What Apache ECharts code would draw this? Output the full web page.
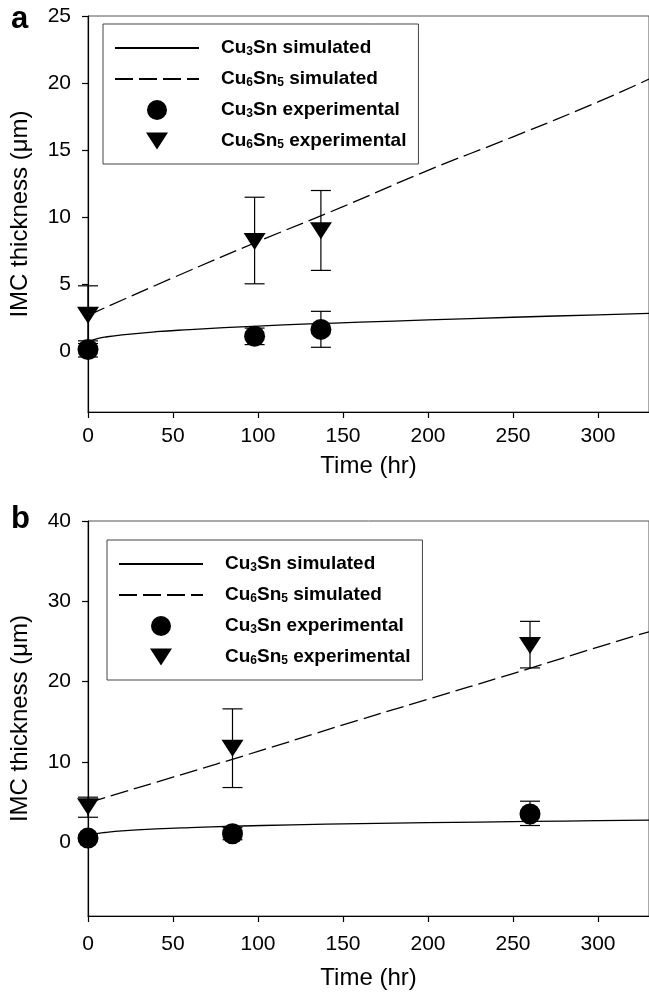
<!DOCTYPE html>
<html><head><meta charset="utf-8">
<script src="https://cdn.jsdelivr.net/npm/echarts@6/dist/echarts.min.js"></script>
<style>html,body{margin:0;padding:0;background:#fff}#c{width:649px;height:1001px}</style>
</head><body><div id="c"></div><script>
// ---------- data ----------
const seriesNames = ['Cu3Sn simulated', 'Cu6Sn5 simulated', 'Cu3Sn experimental', 'Cu6Sn5 experimental'];
const xTicks = [0, 50, 100, 150, 200, 250, 300];
const yTicksA = [0, 5, 10, 15, 20, 25];
const yTicksB = [0, 10, 20, 30, 40];

// panel a
const simTimeA3 = [0, 5, 10, 20, 40, 60, 80, 100, 130, 160, 200, 250, 300, 330];
const simCu3SnA = [0.75, 0.95, 1.08, 1.25, 1.48, 1.64, 1.78, 1.9, 2.06, 2.19, 2.36, 2.56, 2.74, 2.85];
const simTimeA6 = [0, 50, 100, 150, 200, 250, 300, 330];
const simCu6Sn5A = [2.7, 5.5, 8.2, 10.8, 13.5, 16.0, 18.6, 20.3];
const expTimeA = [0, 98, 137];
const expCu3SnA = [0.15, 1.15, 1.65];
const expCu3SnA_lo = [-0.4, 0.52, 0.32];
const expCu3SnA_hi = [0.8, 1.75, 3.0];
const expCu6Sn5A = [2.7, 8.2, 9.0];
const expCu6Sn5A_lo = [0.6, 5.05, 6.05];
const expCu6Sn5A_hi = [4.9, 11.5, 12.0];

// panel b
const simTimeB3 = [0, 5, 10, 20, 40, 60, 85, 120, 160, 200, 260, 300, 330];
const simCu3SnB = [0.8, 1.05, 1.2, 1.4, 1.65, 1.82, 1.98, 2.15, 2.3, 2.42, 2.58, 2.67, 2.74];
const simTimeB6 = [0, 50, 100, 150, 200, 250, 300, 330];
const simCu6Sn5B = [4.9, 8.1, 11.3, 14.6, 17.8, 21.0, 24.3, 26.2];
const expTimeB = [0, 85, 260];
const expCu3SnB = [0.5, 1.05, 3.5];
const expCu3SnB_lo = [0.2, 0.3, 2.07];
const expCu3SnB_hi = [0.9, 1.8, 5.1];
const expCu6Sn5B = [4.4, 11.7, 24.5];
const expCu6Sn5B_lo = [3.1, 6.8, 21.7];
const expCu6Sn5B_hi = [5.6, 16.6, 27.5];

// ---------- helpers ----------
const FONT = 'Liberation Sans, Arial, Helvetica, sans-serif';
const zip = (a, b) => a.map((v, i) => [v, b[i]]);
const zip3 = (a, b, c) => a.map((v, i) => [v, b[i], c[i]]);
const DOWN_TRI = 'path://M0,0L22,0L11,17Z';
const DOWN_TRI_LEGEND = 'path://M-1,-1.5L-1,-1.5M0,0L22,0L11,17ZM23,18.5L23,18.5';

function errRender(params, api) {
  const x = api.value(0), lo = api.value(1), hi = api.value(2);
  const pl = api.coord([x, lo]), ph = api.coord([x, hi]);
  const half = 10;
  const style = { stroke: '#000', lineWidth: 1.2, fill: null };
  return { type: 'group', children: [
    { type: 'line', shape: { x1: pl[0], y1: pl[1], x2: ph[0], y2: ph[1] }, style },
    { type: 'line', shape: { x1: pl[0] - half, y1: pl[1], x2: pl[0] + half, y2: pl[1] }, style },
    { type: 'line', shape: { x1: ph[0] - half, y1: ph[1], x2: ph[0] + half, y2: ph[1] }, style }
  ]};
}

function xAxisCfg(gi, margin, nameGap) {
  return {
    type: 'value', gridIndex: gi, min: 0, max: 330,
    name: 'Time (hr)', nameLocation: 'middle', nameGap,
    nameTextStyle: { fontSize: 24, color: '#000', fontFamily: FONT },
    axisLine: { show: true, onZero: false, lineStyle: { color: '#000', width: 1.2 } },
    axisTick: { show: true, customValues: xTicks, length: 6, lineStyle: { color: '#000', width: 1.2 } },
    axisLabel: { customValues: xTicks, margin, fontSize: 21, color: '#000', fontFamily: FONT },
    splitLine: { show: false }
  };
}
function yAxisCfg(gi, min, max, ticks) {
  return {
    type: 'value', gridIndex: gi, min, max,
    name: 'IMC thickness (\u03bcm)', nameLocation: 'middle', nameGap: 56,
    nameTextStyle: { fontSize: 24, color: '#000', fontFamily: FONT },
    axisLine: { show: true, onZero: false, lineStyle: { color: '#000', width: 1.2 } },
    axisTick: { show: true, customValues: ticks, length: 6, lineStyle: { color: '#000', width: 1.2 } },
    axisLabel: { customValues: ticks, margin: 17, fontSize: 21, color: '#000', fontFamily: FONT },
    splitLine: { show: false }
  };
}
function legendCfg(left, top) {
  const hidden = { color: 'rgba(0,0,0,0)', borderWidth: 0, opacity: 0 };
  return {
    left, top, orient: 'vertical',
    data: [
      { name: seriesNames[0], itemStyle: hidden },
      { name: seriesNames[1], itemStyle: hidden },
      { name: seriesNames[2] },
      { name: seriesNames[3], icon: DOWN_TRI_LEGEND }
    ],
    itemWidth: 84, itemHeight: 20, itemGap: 11,
    padding: [14, 12, 13, 11],
    borderColor: '#444', borderWidth: 1, backgroundColor: '#fff',
    selectedMode: false,
    formatter: n => n.replace(/(\d)/g, '{s|$1}'),
    textStyle: {
      fontFamily: FONT, fontWeight: 'bold', fontSize: 19, color: '#000', lineHeight: 20,
      padding: [0, 0, 0, 17],
      rich: { s: { fontFamily: FONT, fontWeight: 'bold', fontSize: 12, color: '#000', lineHeight: 10, verticalAlign: 'bottom' } }
    }
  };
}
function panelSeries(gi, t3, s3, t6, s6, te, e3, e3lo, e3hi, e6, e6lo, e6hi) {
  return [
    { name: seriesNames[0], type: 'line', xAxisIndex: gi, yAxisIndex: gi, data: zip(t3, s3), showSymbol: false, symbol: 'none', smooth: true,
      lineStyle: { color: '#000', width: 1.3, type: 'solid' }, itemStyle: { color: '#000' }, z: 3 },
    { name: seriesNames[1], type: 'line', xAxisIndex: gi, yAxisIndex: gi, data: zip(t6, s6), showSymbol: false, symbol: 'none', smooth: true,
      lineStyle: { color: '#000', width: 1.3, type: [18, 6] }, itemStyle: { color: '#000' }, z: 3 },
    { name: 'err3', type: 'custom', xAxisIndex: gi, yAxisIndex: gi, data: zip3(te, e3lo, e3hi), renderItem: errRender, encode: { x: 0, y: [1, 2] }, clip: false, z: 2 },
    { name: 'err6', type: 'custom', xAxisIndex: gi, yAxisIndex: gi, data: zip3(te, e6lo, e6hi), renderItem: errRender, encode: { x: 0, y: [1, 2] }, clip: false, z: 2 },
    { name: seriesNames[2], type: 'scatter', xAxisIndex: gi, yAxisIndex: gi, data: zip(te, e3), symbol: 'circle', symbolSize: 21,
      itemStyle: { color: '#000', opacity: 1 }, clip: false, z: 4 },
    { name: seriesNames[3], type: 'scatter', xAxisIndex: gi, yAxisIndex: gi, data: zip(te, e6), symbol: DOWN_TRI, symbolSize: [22, 17],
      itemStyle: { color: '#000', opacity: 1 }, clip: false, z: 4 }
  ];
}

const chart = echarts.init(document.getElementById('c'), null, { renderer: 'canvas' });
chart.setOption({
  animation: false,
  backgroundColor: '#fff',
  grid: [
    { left: 88, right: -4, top: 16, height: 396, show: true, borderColor: '#555', borderWidth: 1 },
    { left: 88, right: -4, top: 521, height: 395, show: true, borderColor: '#555', borderWidth: 1 }
  ],
  xAxis: [xAxisCfg(0, 14, 42), xAxisCfg(1, 18, 50)],
  yAxis: [yAxisCfg(0, -4.5, 25, yTicksA), yAxisCfg(1, -9.2, 40, yTicksB)],
  legend: [legendCfg(103, 24), legendCfg(107, 540)],
  graphic: [
    { type: 'text', x: 11, y: 35, style: { text: 'a', font: 'bold 31px ' + FONT, fill: '#000', textVerticalAlign: 'bottom' } },
    { type: 'text', x: 11, y: 535, style: { text: 'b', font: 'bold 31px ' + FONT, fill: '#000', textVerticalAlign: 'bottom' } }
  ],
  series: [
    ...panelSeries(0, simTimeA3, simCu3SnA, simTimeA6, simCu6Sn5A, expTimeA, expCu3SnA, expCu3SnA_lo, expCu3SnA_hi, expCu6Sn5A, expCu6Sn5A_lo, expCu6Sn5A_hi),
    ...panelSeries(1, simTimeB3, simCu3SnB, simTimeB6, simCu6Sn5B, expTimeB, expCu3SnB, expCu3SnB_lo, expCu3SnB_hi, expCu6Sn5B, expCu6Sn5B_lo, expCu6Sn5B_hi)
  ]
});
</script></body></html>
